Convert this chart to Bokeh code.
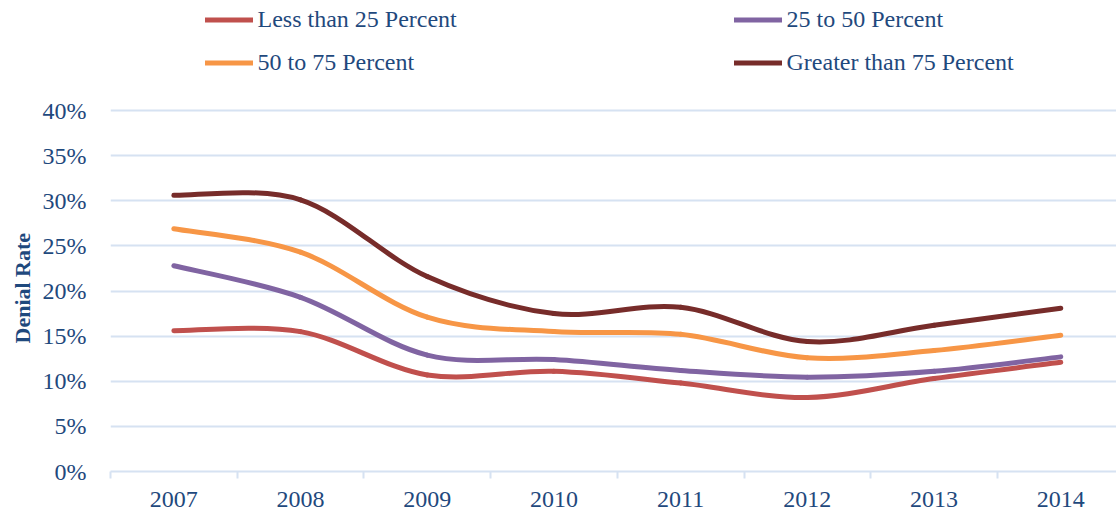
from bokeh.plotting import figure
from bokeh.models import (Range1d, FixedTicker, PrintfTickFormatter, Legend, LegendItem,
                          ColumnDataSource, Title)
from bokeh.embed import file_html
from bokeh.resources import INLINE

years = ["2007", "2008", "2009", "2010", "2011", "2012", "2013", "2014"]
less_25 = [15.6, 15.5, 10.7, 11.1, 9.8, 8.2, 10.3, 12.1]
p25_50 = [22.8, 19.3, 12.9, 12.4, 11.2, 10.45, 11.1, 12.7]
p50_75 = [26.9, 24.3, 17.1, 15.5, 15.2, 12.6, 13.4, 15.1]
greater_75 = [30.6, 30.1, 21.6, 17.5, 18.2, 14.4, 16.2, 18.1]

series_names = ["Less than 25 Percent", "25 to 50 Percent", "50 to 75 Percent", "Greater than 75 Percent"]
series_vals = [less_25, p25_50, p50_75, greater_75]
colors = ["#C0504D", "#8064A2", "#F79646", "#772C2A"]

y_ticks = [0, 5, 10, 15, 20, 25, 30, 35, 40]

TXT = "#1F497D"
GRID = "#D6E2F2"
FONT = "Liberation Serif"

p = figure(width=1116, height=514, output_backend="svg", toolbar_location=None,
           x_range=Range1d(-0.5, 7.44), y_range=Range1d(0, 52.19),
           min_border_left=110, min_border_right=0, min_border_top=0, min_border_bottom=43)
p.outline_line_color = None
p.background_fill_color = "white"
p.border_fill_color = "white"


def smooth_source(vals):
    xs = list(range(len(vals)))
    n = len(vals)
    d = dict(x0=[], y0=[], x1=[], y1=[], cx0=[], cy0=[], cx1=[], cy1=[])
    for i in range(n - 1):
        a = max(i - 1, 0)
        b = min(i + 2, n - 1)
        x1, y1 = xs[i], vals[i]
        x2, y2 = xs[i + 1], vals[i + 1]
        d["x0"].append(x1); d["y0"].append(y1)
        d["x1"].append(x2); d["y1"].append(y2)
        d["cx0"].append(x1 + (x2 - xs[a]) / 6.0)
        d["cy0"].append(y1 + (y2 - vals[a]) / 6.0)
        d["cx1"].append(x2 - (xs[b] - x1) / 6.0)
        d["cy1"].append(y2 - (vals[b] - y1) / 6.0)
    return ColumnDataSource(d)


renderers = {}
for name, vals, col in zip(series_names, series_vals, colors):
    r = p.bezier(x0="x0", y0="y0", x1="x1", y1="y1", cx0="cx0", cy0="cy0", cx1="cx1", cy1="cy1",
                 source=smooth_source(vals), line_color=col, line_width=5, line_cap="round")
    renderers[name] = r

# x axis: labels centred on years, tick marks between years
p.xaxis.ticker = FixedTicker(ticks=list(range(len(years))),
                             minor_ticks=[i - 0.5 for i in range(len(years))])
p.xaxis.major_label_overrides = {i: y for i, y in enumerate(years)}
p.xaxis.major_tick_line_color = None
p.xaxis.major_tick_out = 0
p.xaxis.major_tick_in = 0
p.xaxis.minor_tick_line_color = GRID
p.xaxis.minor_tick_line_width = 2
p.xaxis.minor_tick_out = 7
p.xaxis.minor_tick_in = 0
p.xaxis.axis_line_color = GRID
p.xaxis.axis_line_width = 2
p.xaxis.major_label_text_font = FONT
p.xaxis.major_label_text_font_size = "24px"
p.xaxis.major_label_text_color = TXT
p.xaxis.major_label_standoff = 13

# y axis
p.yaxis.ticker = FixedTicker(ticks=y_ticks, minor_ticks=[])
p.yaxis.formatter = PrintfTickFormatter(format="%d%%")
p.yaxis.axis_line_color = None
p.yaxis.major_tick_line_color = None
p.yaxis.minor_tick_line_color = None
p.yaxis.major_tick_out = 0
p.yaxis.major_tick_in = 0
p.yaxis.major_label_standoff = 24
p.yaxis.major_label_text_font = FONT
p.yaxis.major_label_text_font_size = "24px"
p.yaxis.major_label_text_color = TXT

# y axis title, centred on the 0-40% band
ytitle = Title(text="Denial Rate", align="left", offset=128, standoff=9,
               text_font=FONT, text_font_size="22px", text_font_style="bold",
               text_color=TXT)
p.add_layout(ytitle, "left")

p.xgrid.grid_line_color = None
p.ygrid.ticker = FixedTicker(ticks=y_ticks, minor_ticks=[])
p.ygrid.grid_line_color = GRID
p.ygrid.grid_line_width = 2


def make_legend(names, loc):
    lg = Legend(items=[LegendItem(label=n, renderers=[renderers[n]]) for n in names],
                location=loc, orientation="vertical")
    lg.padding = 0
    lg.margin = 0
    lg.spacing = 16
    lg.border_line_color = None
    lg.background_fill_alpha = 0
    lg.glyph_width = 48
    lg.glyph_height = 27
    lg.label_height = 27
    lg.label_standoff = 5
    lg.label_text_font = FONT
    lg.label_text_font_size = "24px"
    lg.label_text_color = TXT
    return lg


p.add_layout(make_legend([series_names[0], series_names[2]], (94.5, 395.5)), "center")
p.add_layout(make_legend([series_names[1], series_names[3]], (623.5, 395.5)), "center")

open("out.html", "w").write(file_html(p, INLINE))
